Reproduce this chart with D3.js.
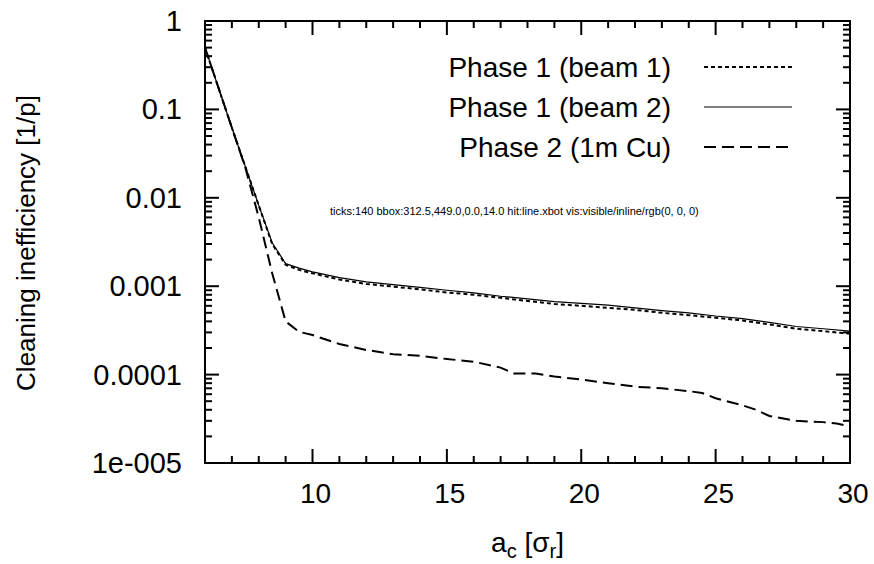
<!DOCTYPE html>
<html>
<head>
<meta charset="utf-8">
<script src="https://cdn.jsdelivr.net/npm/d3@7"></script>
<style>
  body { margin: 0; background: #fff; }
  svg text { font-family: "Liberation Sans", Arial, Helvetica, sans-serif; fill: #000; }
</style>
</head>
<body>
<div id="container"></div>
<script>
// data
let phase1X = [6, 7, 8, 8.5, 9, 9.5, 10, 11, 12, 13, 14, 15, 16, 17, 18, 19, 20,
               21, 22, 23, 24, 25, 26, 27, 28, 29, 30]
let beam1 = [0.5, 0.062, 0.0082, 0.003, 0.00175, 0.00153, 0.0014, 0.00119, 0.00106,
             0.00099, 0.00092, 0.00085, 0.0008, 0.00074, 0.00068, 0.00063, 0.0006,
             0.00057, 0.00054, 0.0005, 0.00047, 0.00044, 0.00041, 0.00037, 0.00033,
             0.00031, 0.00029]
let beam2 = [0.5, 0.062, 0.0082, 0.0031, 0.0018, 0.0016, 0.00145, 0.00125, 0.00112,
             0.00104, 0.00097, 0.0009, 0.00084, 0.00077, 0.00072, 0.00067, 0.00064,
             0.00061, 0.00057, 0.00053, 0.0005, 0.00046, 0.00043, 0.00039, 0.00035,
             0.00033, 0.00031]
let phase2X = [6, 7, 7.5, 8, 8.5, 9, 9.5, 10, 11, 12, 13, 14, 15, 16, 17, 17.5, 18.3,
               19, 20, 21, 22, 23, 24, 24.5, 25, 26, 26.5, 27, 28, 29, 29.5, 30]
let phase2 = [0.5, 0.062, 0.022, 0.006, 0.0014, 0.0004, 0.000305, 0.00028, 0.000222,
              0.00019, 0.00017, 0.000163, 0.00015, 0.00014, 0.00012, 0.000103, 0.000103,
              0.000095, 0.000088, 0.00008, 0.000073, 0.00007, 0.000065, 0.000062,
              0.000054, 0.000045, 0.00004, 0.000034, 0.00003, 0.000029, 0.000028, 0.000026]

let seriesNames = ['Phase 1 (beam 1)', 'Phase 1 (beam 2)', 'Phase 2 (1m Cu)']
let xTicks = [10, 15, 20, 25, 30]
let yTicks = [1, 0.1, 0.01, 0.001, 0.0001, 0.00001]
let yTickLabels = ['1', '0.1', '0.01', '0.001', '0.0001', '1e-005']

let svgWidth = 874, svgHeight = 564
let plotLeft = 205, plotRight = 850, plotTop = 21, plotBottom = 463

let x = d3.scaleLinear().domain([6, 30]).range([plotLeft, plotRight])
let y = d3.scaleLog().domain([1e-5, 1]).range([plotBottom, plotTop])

let svg = d3.select('#container')
  .append('svg')
  .attr('width', svgWidth)
  .attr('height', svgHeight)

// frame
svg.append('rect')
  .attr('x', plotLeft).attr('y', plotTop)
  .attr('width', plotRight - plotLeft).attr('height', plotBottom - plotTop)
  .attr('fill', 'none').attr('stroke', '#000').attr('stroke-width', 2)

// inward ticks on all four sides
let xMinor = d3.range(7, 30).filter(d => d % 5 != 0)
let yMinor = []
for (let e = -5; e < 0; e++) {
  for (let m = 2; m <= 9; m++) yMinor.push(m * Math.pow(10, e))
}
let majorLen = 14, minorLen = 7
let xTickList = xTicks.map(d => ({ v: d, len: majorLen })).concat(xMinor.map(d => ({ v: d, len: minorLen })))
let yTickList = yTicks.map(d => ({ v: d, len: majorLen })).concat(yMinor.map(d => ({ v: d, len: minorLen })))

let tickG = svg.append('g').attr('class', 'ticks')
tickG.selectAll('line.xbot').data(xTickList).enter().append('line')
  .attr('class', 'xbot')
  .attr('x1', d => x(d.v)).attr('x2', d => x(d.v))
  .attr('y1', plotBottom).attr('y2', d => plotBottom - d.len)
  .attr('stroke', '#000').attr('stroke-width', 2)
tickG.selectAll('line.xtop').data(xTickList).enter().append('line')
  .attr('class', 'xtop')
  .attr('x1', d => x(d.v)).attr('x2', d => x(d.v))
  .attr('y1', plotTop).attr('y2', d => plotTop + d.len)
  .attr('stroke', '#000').attr('stroke-width', 2)
tickG.selectAll('line.yleft').data(yTickList).enter().append('line')
  .attr('class', 'yleft')
  .attr('x1', plotLeft).attr('x2', d => plotLeft + d.len)
  .attr('y1', d => y(d.v)).attr('y2', d => y(d.v))
  .attr('stroke', '#000').attr('stroke-width', 2)
tickG.selectAll('line.yright').data(yTickList).enter().append('line')
  .attr('class', 'yright')
  .attr('x1', plotRight).attr('x2', d => plotRight - d.len)
  .attr('y1', d => y(d.v)).attr('y2', d => y(d.v))
  .attr('stroke', '#000').attr('stroke-width', 2)

// tick labels
svg.append('g').selectAll('text')
  .data(xTicks)
  .enter()
  .append('text')
  .attr('x', d => x(d) + 3)
  .attr('y', 503)
  .attr('text-anchor', 'middle')
  .attr('font-size', 28)
  .text(d => d)

svg.append('g').selectAll('text')
  .data(yTicks)
  .enter()
  .append('text')
  .attr('x', 182)
  .attr('y', d => y(d) + 10)
  .attr('text-anchor', 'end')
  .attr('font-size', 29)
  .text((d, i) => yTickLabels[i])

// axis titles
let xTitle = svg.append('text')
  .attr('x', (plotLeft + plotRight) / 2)
  .attr('y', 552)
  .attr('text-anchor', 'middle')
  .attr('font-size', 28)
xTitle.append('tspan').text('a')
xTitle.append('tspan').attr('dy', 6).attr('font-size', 20).text('c')
xTitle.append('tspan').attr('dy', -6).text(' [σ')
xTitle.append('tspan').attr('dy', 6).attr('font-size', 20).text('r')
xTitle.append('tspan').attr('dy', -6).text(']')

svg.append('text')
  .attr('transform', 'translate(35,243) rotate(-90)')
  .attr('text-anchor', 'middle')
  .attr('font-size', 26)
  .text('Cleaning inefficiency [1/p]')

// curves
let styles = [
  { width: 2, dash: '4,3' },
  { width: 1.2, dash: null },
  { width: 2, dash: '12,6' }
]
let series = [
  { xs: phase1X, ys: beam1 },
  { xs: phase1X, ys: beam2 },
  { xs: phase2X, ys: phase2 }
]

let curve = d3.line().x(d => x(d[0])).y(d => y(d[1]))

let plot = svg.append('g')
series.forEach((s, i) => {
  plot.append('path')
    .datum(s.xs.map((v, j) => [v, s.ys[j]]))
    .attr('d', curve)
    .attr('fill', 'none')
    .attr('stroke', '#000')
    .attr('stroke-width', styles[i].width)
    .attr('stroke-dasharray', styles[i].dash)
})

// legend
let legendY = [67, 107, 147]
seriesNames.forEach((name, i) => {
  svg.append('text')
    .attr('x', 671)
    .attr('y', legendY[i] + 10)
    .attr('text-anchor', 'end')
    .attr('font-size', 28)
    .text(name)
  svg.append('line')
    .attr('x1', 704).attr('x2', 792)
    .attr('y1', legendY[i]).attr('y2', legendY[i])
    .attr('stroke', '#000')
    .attr('stroke-width', styles[i].width)
    .attr('stroke-dasharray', styles[i].dash)
})

// diagnostic (temporary)
let first = tickG.select('line').node()
let bb = first ? first.getBBox() : null
let hit = document.elementFromPoint(x(15), plotBottom - 6)
let info = 'ticks:' + tickG.selectAll('line').size() +
  ' bbox:' + (bb ? [bb.x, bb.y, bb.width, bb.height].map(v => v.toFixed(1)).join(',') : 'none') +
  ' hit:' + (hit ? hit.tagName + '.' + (hit.getAttribute('class') || '') : 'null') +
  ' vis:' + (first ? getComputedStyle(first).visibility + '/' + getComputedStyle(first).display + '/' + getComputedStyle(first).stroke : '')
svg.append('text').attr('x', 330).attr('y', 215).attr('font-size', 11).text(info)
</script>
</body>
</html>
